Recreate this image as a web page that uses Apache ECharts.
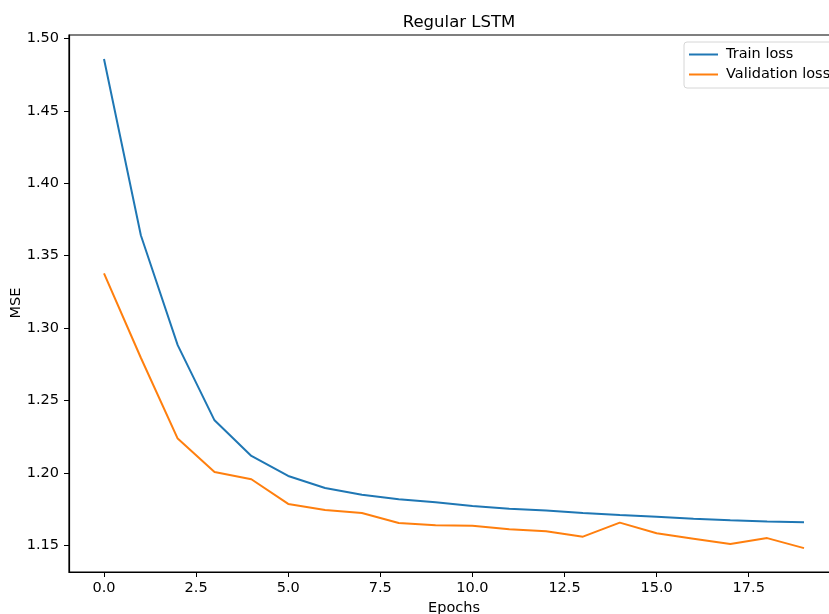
<!DOCTYPE html>
<html>
<head>
<meta charset="utf-8">
<title>Regular LSTM</title>
<script src="https://cdn.jsdelivr.net/npm/echarts@6/dist/echarts.min.js"></script>
<style>
  html, body { margin: 0; padding: 0; background: #fff; }
  #chart { width: 829px; height: 614px; }
</style>
</head>
<body>
<div id="chart"></div>
<script>
// epochs 0..19
var epochs = [0, 1, 2, 3, 4, 5, 6, 7, 8, 9, 10, 11, 12, 13, 14, 15, 16, 17, 18, 19]
var trainLoss = [1.4857, 1.3641, 1.2882, 1.2363, 1.2117, 1.1979, 1.1896, 1.1850, 1.1819, 1.1797,
  1.1772, 1.1753, 1.1740, 1.1723, 1.1709, 1.1698, 1.1684, 1.1673, 1.1664, 1.1659]
var valLoss = [1.3377, 1.2795, 1.2237, 1.2006, 1.1956, 1.1786, 1.1744, 1.1723, 1.1654, 1.1638,
  1.1636, 1.1611, 1.1597, 1.1560, 1.1657, 1.1583, 1.1546, 1.1509, 1.1550, 1.1481]
var xTicks = [0, 2.5, 5, 7.5, 10, 12.5, 15, 17.5]
var yTicks = [1.15, 1.20, 1.25, 1.30, 1.35, 1.40, 1.45, 1.50]

var font = 'DejaVu Sans'

function pairs(ys) {
  return epochs.map(function(x, i) { return [x, ys[i]] })
}

var chart = echarts.init(document.getElementById('chart'), null, { renderer: 'canvas' })
chart.setOption({
  animation: false,
  backgroundColor: '#fff',
  title: {
    text: 'Regular LSTM',
    left: 454,
    top: 9,
    textAlign: 'center',
    textStyle: { fontFamily: font, fontWeight: 'normal', fontSize: 16.5, color: '#000' }
  },
  legend: {
    orient: 'vertical',
    left: 684,
    top: 42,
    padding: [4, 8, 5, 5],
    itemGap: 3,
    itemWidth: 29,
    itemHeight: 2,
    icon: 'rect',
    borderColor: '#d6d6d6',
    borderWidth: 1,
    borderRadius: 3,
    backgroundColor: '#fff',
    textStyle: { fontFamily: font, fontSize: 14.5, color: '#000', padding: [0, 0, 0, 3], lineHeight: 17 },
    data: ['Train loss', 'Validation loss']
  },
  // y axis title placed by hand (axis name kept getting pushed to the edge)
  graphic: [{
    type: 'text',
    x: 16,
    y: 303,
    rotation: Math.PI / 2,
    style: {
      text: 'MSE',
      fontFamily: font,
      fontSize: 14.5,
      fill: '#000',
      align: 'center',
      verticalAlign: 'middle'
    }
  }],
  grid: {
    left: 69,
    top: 35,
    width: 770,
    height: 537,
    outerBoundsMode: 'none',
    containLabel: false,
    show: true,
    borderColor: '#000',
    borderWidth: 1.2
  },
  xAxis: {
    type: 'value',
    min: -0.95,
    max: 19.95,
    name: 'Epochs',
    nameLocation: 'middle',
    nameGap: 29,
    nameMoveOverlap: false,
    nameTextStyle: { fontFamily: font, fontSize: 14.5, color: '#000' },
    axisLine: { onZero: false, lineStyle: { color: '#000', width: 1.2 } },
    axisTick: { show: true, length: 5, customValues: xTicks, lineStyle: { color: '#000' } },
    axisLabel: {
      customValues: xTicks,
      margin: 9,
      fontFamily: font,
      fontSize: 14.5,
      color: '#000',
      formatter: function(v) { return v.toFixed(1) }
    },
    splitLine: { show: false }
  },
  yAxis: {
    type: 'value',
    min: 1.1316,
    max: 1.5023,
    axisLine: { show: true, onZero: false, lineStyle: { color: '#000', width: 1.2 } },
    axisTick: { show: true, length: 5, customValues: yTicks, lineStyle: { color: '#000' } },
    axisLabel: {
      customValues: yTicks,
      margin: 10,
      fontFamily: font,
      fontSize: 14.5,
      color: '#000',
      formatter: function(v) { return v.toFixed(2) }
    },
    splitLine: { show: false }
  },
  series: [
    {
      name: 'Train loss',
      type: 'line',
      data: pairs(trainLoss),
      symbol: 'none',
      color: '#1f77b4',
      lineStyle: { width: 2, color: '#1f77b4' }
    },
    {
      name: 'Validation loss',
      type: 'line',
      data: pairs(valLoss),
      symbol: 'none',
      color: '#ff7f0e',
      lineStyle: { width: 2, color: '#ff7f0e' }
    }
  ]
})
</script>
</body>
</html>
